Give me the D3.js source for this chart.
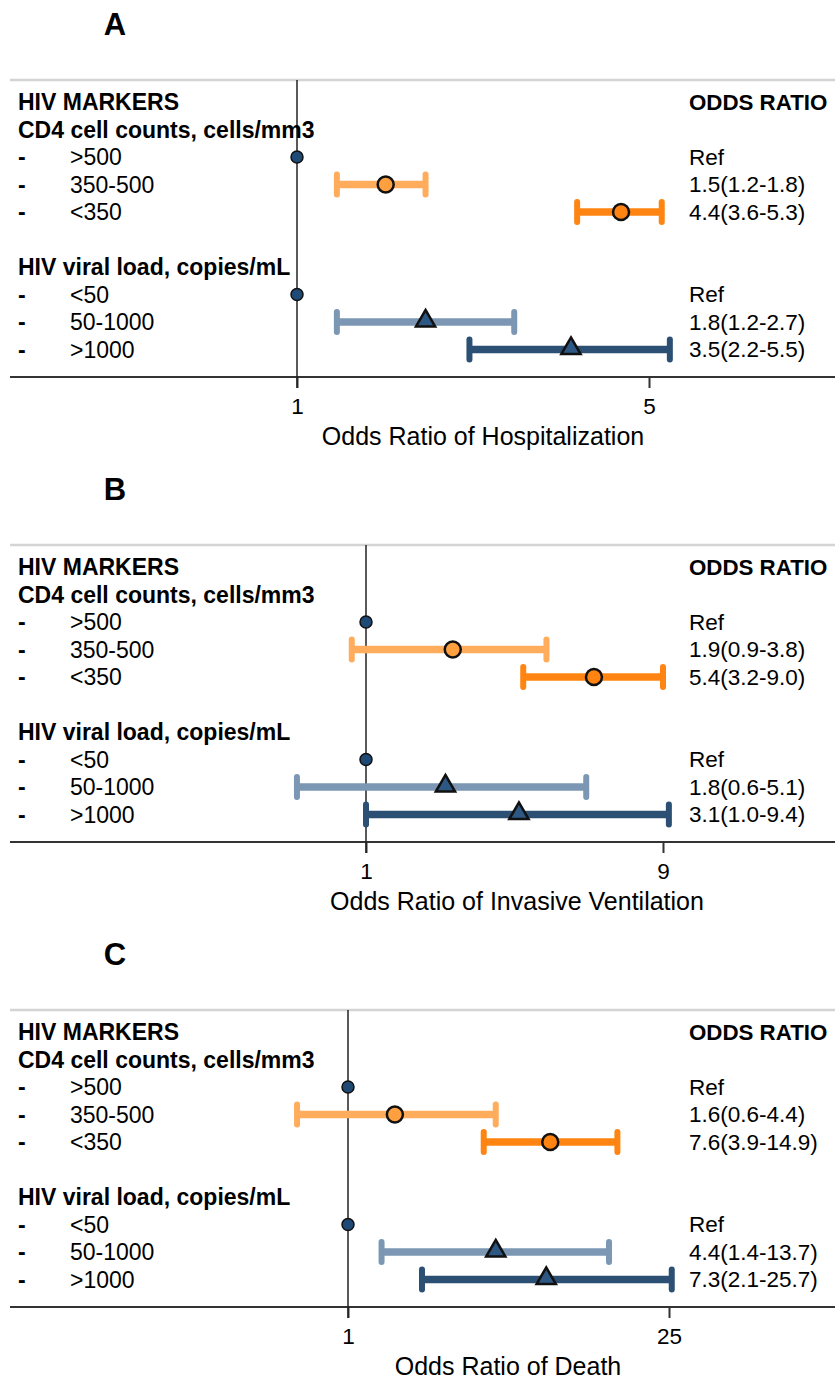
<!DOCTYPE html>
<html>
<head>
<meta charset="utf-8">
<title>HIV markers forest plots</title>
<script src="https://cdn.jsdelivr.net/npm/d3@7"></script>
<style>
    body { margin: 0; background: white; }
    text { font-family: "Liberation Sans", Arial, sans-serif; fill: #000; }
</style>
</head>
<body>
<svg id="chart" width="835" height="1380"></svg>
<script>

    // data
    var panelLetters = ["A", "B", "C"];
    var outcomes = ["Hospitalization", "Invasive Ventilation", "Death"];
    var tickValues = [[1, 5], [1, 9], [1, 25]];
    var groups = ["CD4 cell counts, cells/mm3", "HIV viral load, copies/mL"];
    var categories = [[">500", "350-500", "<350"], ["<50", "50-1000", ">1000"]];

    // [panel][group][category]
    var oddsRatio = [
        [[1, 1.5, 4.4], [1, 1.8, 3.5]],
        [[1, 1.9, 5.4], [1, 1.8, 3.1]],
        [[1, 1.6, 7.6], [1, 4.4, 7.3]]
    ];
    var lowerCI = [
        [[null, 1.2, 3.6], [null, 1.2, 2.2]],
        [[null, 0.9, 3.2], [null, 0.6, 1.0]],
        [[null, 0.6, 3.9], [null, 1.4, 2.1]]
    ];
    var upperCI = [
        [[null, 1.8, 5.3], [null, 2.7, 5.5]],
        [[null, 3.8, 9.0], [null, 5.1, 9.4]],
        [[null, 4.4, 14.9], [null, 13.7, 25.7]]
    ];
    var orLabels = [
        [["Ref", "1.5(1.2-1.8)", "4.4(3.6-5.3)"], ["Ref", "1.8(1.2-2.7)", "3.5(2.2-5.5)"]],
        [["Ref", "1.9(0.9-3.8)", "5.4(3.2-9.0)"], ["Ref", "1.8(0.6-5.1)", "3.1(1.0-9.4)"]],
        [["Ref", "1.6(0.6-4.4)", "7.6(3.9-14.9)"], ["Ref", "4.4(1.4-13.7)", "7.3(2.1-25.7)"]]
    ];

    // layout
    var panelHeight = 465;
    var firstRow = 102, rowStep = 27.5;
    var xRanges = [[297, 649], [366, 663], [348, 669]];
    var titleX = [483, 517, 508];
    var barColours = [["#ffad5c", "#ff8411"], ["#7b97b3", "#2c4f74"]];
    var markerFill = [["#ffa040", "#ff8411"], ["#2d5883", "#2d5883"]];
    var refFill = "#1f4a75";
    var fontSize = "23px";

    var svg = d3.select("#chart");
    svg.append("rect").attr("width", 835).attr("height", 1380).attr("fill", "white");

    panelLetters.forEach(function(letter, p) {
        var g = svg.append("g").attr("transform", "translate(0," + (p * panelHeight) + ")");

        var x = d3.scaleLog().domain(tickValues[p]).range(xRanges[p]);
        var y = d3.scaleLinear().domain([0, 10]).range([firstRow, firstRow + 10 * rowStep]);
        var topY = y(0) - 22, axisY = y(10);

        g.append("text")
            .attr("x", 115).attr("y", 24)
            .attr("text-anchor", "middle").attr("dominant-baseline", "central")
            .style("font-size", "31px").style("font-weight", "bold")
            .text(letter);

        // frame lines
        g.append("line").attr("x1", 10).attr("x2", 835).attr("y1", topY).attr("y2", topY)
            .attr("stroke", "#d4d4d4").attr("stroke-width", 2.5);
        g.append("line").attr("x1", 10).attr("x2", 835).attr("y1", axisY).attr("y2", axisY)
            .attr("stroke", "#333").attr("stroke-width", 2);

        // axis
        var axis = d3.axisBottom(x).tickValues(tickValues[p]).tickFormat(d3.format("d"))
            .tickSize(11).tickPadding(10);
        var ax = g.append("g").attr("transform", "translate(0," + axisY + ")").call(axis);
        ax.select(".domain").remove();
        ax.selectAll(".tick line").attr("stroke", "#333").attr("stroke-width", 2);
        ax.selectAll(".tick text").style("font-size", "22.5px").attr("fill", "#000")
            .style("font-family", "Liberation Sans, Arial, sans-serif");

        // null line at OR = 1
        g.append("line").attr("x1", x(1)).attr("x2", x(1)).attr("y1", topY).attr("y2", axisY + 11)
            .attr("stroke", "#222").attr("stroke-width", 1.5);

        g.append("text")
            .attr("x", titleX[p]).attr("y", axisY + 59)
            .attr("text-anchor", "middle").attr("dominant-baseline", "central")
            .style("font-size", "25px").attr("fill", "#111")
            .text("Odds Ratio of " + outcomes[p]);

        // headers
        g.append("text").attr("x", 18).attr("y", y(0)).attr("dominant-baseline", "central")
            .style("font-size", fontSize).style("font-weight", "bold").text("HIV MARKERS");
        g.append("text").attr("x", 689).attr("y", y(0)).attr("dominant-baseline", "central")
            .style("font-size", "22.3px").style("font-weight", "bold").text("ODDS RATIO");

        groups.forEach(function(groupName, gi) {
            var headRow = 1 + gi * 5;
            g.append("text").attr("x", 18).attr("y", y(headRow)).attr("dominant-baseline", "central")
                .style("font-size", fontSize).style("font-weight", "bold").text(groupName);

            categories[gi].forEach(function(cat, ci) {
                var yy = y(headRow + 1 + ci);
                g.append("text").attr("x", 18).attr("y", yy).attr("dominant-baseline", "central")
                    .style("font-size", fontSize).style("font-weight", "bold").text("-");
                g.append("text").attr("x", 70).attr("y", yy).attr("dominant-baseline", "central")
                    .style("font-size", fontSize).text(cat);
                g.append("text").attr("x", 689).attr("y", yy).attr("dominant-baseline", "central")
                    .style("font-size", "22.5px").text(orLabels[p][gi][ci]);

                var est = oddsRatio[p][gi][ci];
                var lo = lowerCI[p][gi][ci], hi = upperCI[p][gi][ci];

                if (lo == null) {
                    g.append("circle").attr("cx", x(est)).attr("cy", yy).attr("r", 6)
                        .attr("fill", refFill).attr("stroke", "#111").attr("stroke-width", 1.5);
                    return;
                }

                var col = barColours[gi][ci - 1];
                g.append("line").attr("x1", x(lo)).attr("x2", x(hi)).attr("y1", yy).attr("y2", yy)
                    .attr("stroke", col).attr("stroke-width", 7.5);
                [lo, hi].forEach(function(v) {
                    g.append("line").attr("x1", x(v)).attr("x2", x(v)).attr("y1", yy - 10).attr("y2", yy + 10)
                        .attr("stroke", col).attr("stroke-width", 6).attr("stroke-linecap", "round");
                });

                if (gi == 0) {
                    g.append("circle").attr("cx", x(est)).attr("cy", yy).attr("r", 8)
                        .attr("fill", markerFill[gi][ci - 1]).attr("stroke", "#111").attr("stroke-width", 2.5);
                } else {
                    g.append("path")
                        .attr("d", d3.symbol().type(d3.symbolTriangle).size(160))
                        .attr("transform", "translate(" + x(est) + "," + (yy - 1) + ")")
                        .attr("fill", markerFill[gi][ci - 1]).attr("stroke", "#111").attr("stroke-width", 2.5);
                }
            });
        });
    });

</script>
</body>
</html>
